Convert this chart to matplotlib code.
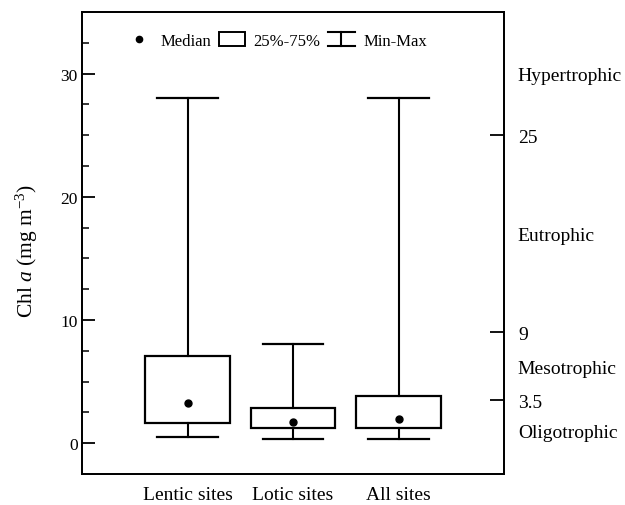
'''
  Chl a box summary for lentic, lotic and all sites with trophic classes.
'''

import matplotlib
matplotlib.use("Agg")
import matplotlib.pyplot as plt
from matplotlib.lines import Line2D
from matplotlib.patches import Rectangle
from matplotlib.legend_handler import HandlerBase

plt.rcParams['font.family'] = ['Liberation Serif', 'DejaVu Serif']
plt.rcParams['mathtext.fontset'] = 'custom'
plt.rcParams['mathtext.rm'] = 'Liberation Serif'
plt.rcParams['mathtext.it'] = 'Liberation Serif:italic'

###########################################################################

# Data

sites = ["Lentic sites", "Lotic sites", "All sites"]
chl_min = [0.5, 0.3, 0.3]
chl_q1 = [1.6, 1.2, 1.2]
chl_median = [3.25, 1.7, 2.0]
chl_q3 = [7.05, 2.85, 3.8]
chl_max = [28.0, 8.05, 28.0]

trophic_limits = [3.5, 9, 25]
trophic_limit_labels = ["3.5", "9", "25"]
trophic_classes = ["Oligotrophic", "Mesotrophic", "Eutrophic", "Hypertrophic"]
trophic_class_y = [1.0, 6.25, 17.0, 30.0]


class MinMaxHandler(HandlerBase):
    # draws the I-beam used for the min-max symbol
    def create_artists(self, legend, orig_handle, xdescent, ydescent,
                       width, height, fontsize, trans):
        xm = width / 2.0 - xdescent
        y0 = -ydescent
        y1 = height - ydescent
        lw = 1.5
        arts = [Line2D([xm, xm], [y0, y1], color='k', lw=lw),
                Line2D([0 - xdescent, width - xdescent], [y0, y0], color='k', lw=lw),
                Line2D([0 - xdescent, width - xdescent], [y1, y1], color='k', lw=lw)]
        for a in arts:
            a.set_transform(trans)
        return arts


fig = plt.figure(figsize=(6.25, 5.06), dpi=100)
ax = fig.add_axes([0.1312, 0.0613, 0.6752, 0.9130])

positions = [1, 2, 3]
stats = []
for i in range(len(sites)):
    stats.append({'med': chl_median[i], 'q1': chl_q1[i], 'q3': chl_q3[i],
                  'whislo': chl_min[i], 'whishi': chl_max[i],
                  'mean': chl_median[i], 'fliers': []})

ax.bxp(stats, positions=positions, widths=0.8, capwidths=0.57,
       showmeans=True, showfliers=False, patch_artist=True,
       boxprops=dict(facecolor='white', edgecolor='k', linewidth=1.6),
       whiskerprops=dict(color='k', linewidth=1.5),
       capprops=dict(color='k', linewidth=1.6),
       medianprops=dict(linewidth=0),
       meanprops=dict(marker='o', markerfacecolor='k', markeredgecolor='k',
                      markersize=5))

ax.set_xlim(0, 4)
ax.set_ylim(-2.5, 35)
ax.set_xticks(positions)
ax.set_xticklabels(sites, fontsize=14)
ax.tick_params(axis='x', length=0, pad=9)
ax.set_yticks([0, 10, 20, 30])
ax.set_yticks([2.5 * k for k in range(1, 14) if k % 4 != 0], minor=True)
ax.tick_params(axis='y', which='major', direction='in', length=9.5, width=1.3,
               labelsize=12.5, pad=3)
ax.tick_params(axis='y', which='minor', direction='in', length=5, width=1.1)
ax.set_ylabel("Chl $a$ (mg m$^{-3}$)", fontsize=15.5)
ax.yaxis.set_label_coords(-0.10, 0.485)
for sp in ax.spines.values():
    sp.set_linewidth(1.3)

# right axis with trophic state limits
ax2 = ax.twinx()
ax2.set_ylim(ax.get_ylim())
ax2.set_yticks(trophic_limits)
ax2.set_yticklabels(trophic_limit_labels)
ax2.set_yticks(trophic_class_y, minor=True)
ax2.set_yticklabels(trophic_classes, minor=True)
ax2.tick_params(axis='y', which='major', direction='in', length=10, width=1.3,
                labelsize=14, pad=10)
ax2.tick_params(axis='y', which='minor', length=0, labelsize=14, pad=10)
for sp in ax2.spines.values():
    sp.set_linewidth(1.3)

handles = [Line2D([], [], marker='o', color='k', linestyle='none', markersize=4.5),
           Rectangle((0, 0), 1, 1, facecolor='white', edgecolor='k', linewidth=1.4),
           'minmax']
leg = ax.legend(handles, ["Median", "25%-75%", "Min-Max"], ncol=3,
                loc='center', bbox_to_anchor=(0.46, 0.938), frameon=False,
                fontsize=12, handlelength=1.6, handleheight=0.85,
                handletextpad=0.5, columnspacing=0.45,
                handler_map={str: MinMaxHandler()})

fig.savefig("out.png", dpi=100, facecolor='w')
